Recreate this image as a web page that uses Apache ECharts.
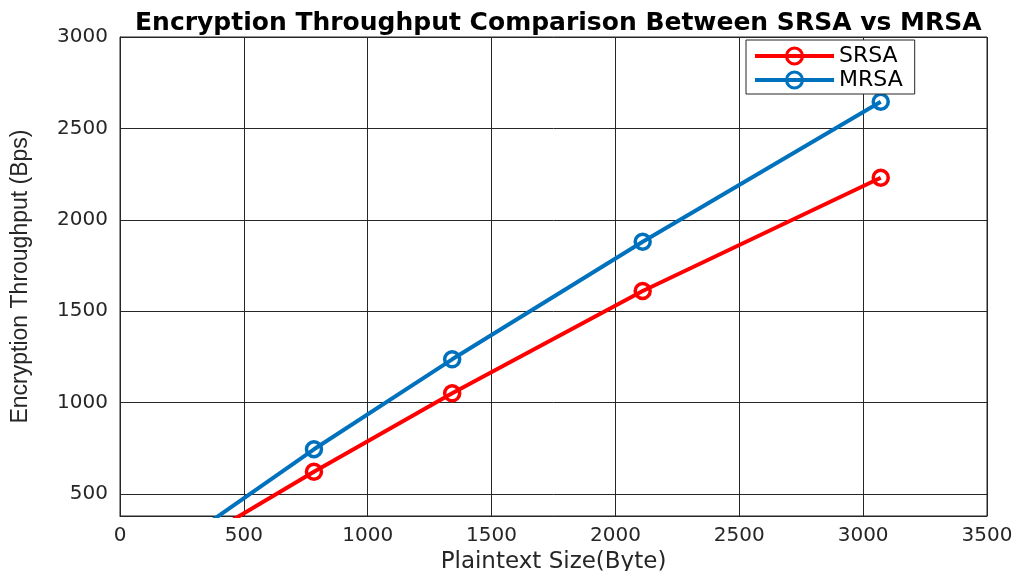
<!DOCTYPE html>
<html>
<head>
<meta charset="utf-8">
<script src="https://cdn.jsdelivr.net/npm/echarts@6/dist/echarts.min.js"></script>
<style>
html,body{margin:0;padding:0;background:#fff;}
#chart{width:1020px;height:571px;}
</style>
</head>
<body>
<div id="chart"></div>
<script>
// Plaintext sizes (Byte); first point lies below the visible y range (clipped)
const plaintextSize = [300, 783, 1341, 2110, 3071];
const srsaThroughput = [234, 622, 1051, 1611, 2230];
const mrsaThroughput = [288, 745, 1237, 1880, 2646];
const seriesNames = ['SRSA', 'MRSA'];
const xTicks = [0, 500, 1000, 1500, 2000, 2500, 3000, 3500];

const RED = '#FF0000';
const BLUE = '#0072BD';
const AXIS = '#262626';
const FONT = 'DejaVu Sans';

function pairs(xs, ys) { return xs.map((x, i) => [x, ys[i]]); }

function lineSeries(name, ys, color) {
  return {
    name: name,
    type: 'line',
    data: pairs(plaintextSize, ys),
    clip: true,
    symbol: 'circle',
    symbolSize: 15,
    lineStyle: { color: color, width: 4 },
    itemStyle: { color: 'rgba(255,255,255,0)', borderColor: color, borderWidth: 3.5 },
    emphasis: { disabled: true },
    z: 3
  };
}

const plain = v => String(v);

const chart = echarts.init(document.getElementById('chart'), null, { renderer: 'canvas' });
chart.setOption({
  backgroundColor: '#ffffff',
  animation: false,
  title: {
    text: 'Encryption Throughput Comparison Between SRSA vs MRSA',
    left: 130,
    top: 6,
    textStyle: { fontFamily: FONT, fontWeight: 'bold', fontSize: 25, color: '#000' }
  },
  legend: {
    data: seriesNames,
    orient: 'vertical',
    left: 746,
    top: 40,
    padding: [5, 12, 3, 7],
    itemWidth: 79,
    itemHeight: 20,
    itemGap: 2,
    itemTextGap: 9,
    lineStyle: { width: 4 },
    itemStyle: { borderWidth: 3 },
    backgroundColor: '#ffffff',
    borderColor: AXIS,
    borderWidth: 1,
    borderRadius: 0,
    textStyle: { fontFamily: FONT, fontSize: 22, color: '#000' }
  },
  grid: {
    left: 120, right: 33, top: 37, bottom: 55,
    outerBoundsMode: 'none',
    containLabel: false,
    show: true, borderColor: AXIS, borderWidth: 1, backgroundColor: '#fff'
  },
  xAxis: {
    type: 'value',
    min: xTicks[0],
    max: xTicks[xTicks.length - 1],
    interval: 500,
    name: 'Plaintext Size(Byte)',
    nameLocation: 'middle',
    nameGap: 26,
    nameTextStyle: { fontFamily: FONT, fontSize: 23, color: AXIS },
    axisLine: { show: true, lineStyle: { color: AXIS, width: 1 } },
    axisTick: { show: false },
    axisLabel: { fontFamily: FONT, fontSize: 20, color: AXIS, margin: 10, formatter: plain },
    splitLine: { show: true, lineStyle: { color: AXIS, width: 1 } }
  },
  yAxis: {
    type: 'value',
    min: 380,
    max: 3000,
    splitNumber: 5,
    name: 'Encryption Throughput (Bps)',
    nameLocation: 'middle',
    nameGap: 88,
    nameTextStyle: { fontFamily: 'Liberation Sans', fontSize: 23, color: AXIS },
    axisLine: { show: true, lineStyle: { color: AXIS, width: 1 } },
    axisTick: { show: false },
    axisLabel: { fontFamily: FONT, fontSize: 20, color: AXIS, margin: 12, showMinLabel: false, formatter: plain },
    splitLine: { show: true, lineStyle: { color: AXIS, width: 1 } }
  },
  series: [
    lineSeries(seriesNames[0], srsaThroughput, RED),
    lineSeries(seriesNames[1], mrsaThroughput, BLUE)
  ]
});
</script>
</body>
</html>
